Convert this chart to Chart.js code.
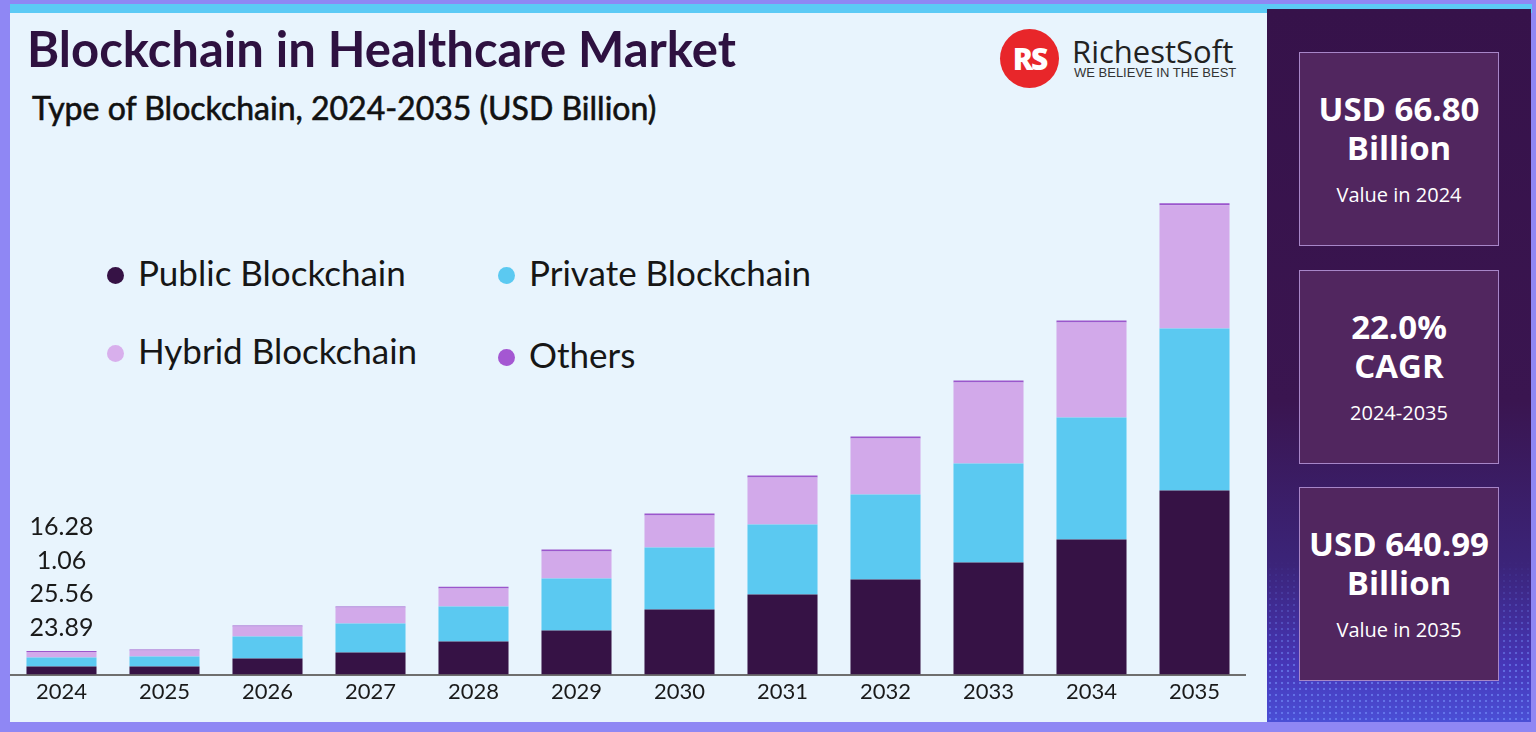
<!DOCTYPE html>
<html>
<head>
<meta charset="utf-8">
<script src="https://cdn.jsdelivr.net/npm/chart.js@4.4.0/dist/chart.umd.min.js"></script>
<style>
body{margin:0;width:1536px;height:732px;overflow:hidden;background:#8f87f4;font-family:Lato,sans-serif;position:relative}
.strip{position:absolute;left:10px;top:4px;width:1522px;height:9px;background:#5ccaf5}
.panel{position:absolute;left:10px;top:13px;width:1257px;height:709px;background:#e8f4fd}
.side{position:absolute;left:1267px;top:9px;width:264px;height:713px;
  background:linear-gradient(180deg,#36124a 0%,#3a1550 55%,#3b2479 78%,#4636b8 92%,#4a4fd6 100%)}
.dots{position:absolute;left:1267px;top:560px;width:264px;height:162px;
  background-image:radial-gradient(circle,rgba(120,150,255,.55) 1px,transparent 1.6px);
  background-size:6px 6px;
  -webkit-mask-image:linear-gradient(180deg,transparent 0%,#000 70%)}
.card{position:absolute;left:1299px;width:200px;height:194px;background:#51265f;border:1px solid #a786c8;
  box-sizing:border-box;color:#fff;text-align:center;font-family:"Open Sans",sans-serif}
.card .big{font-weight:700;font-size:33px;line-height:39px;white-space:nowrap}
.card .sm{font-size:20px;margin-top:14px}
.title{position:absolute;left:27px;top:19px;font-size:49px;font-weight:700;color:#2e1140;white-space:nowrap}
.sub{position:absolute;left:32px;top:88px;font-size:32px;font-weight:400;color:#111;white-space:nowrap;-webkit-text-stroke:0.6px #111}
.logo{position:absolute;left:1000px;top:29px;width:59px;height:59px;border-radius:50%;background:#e8262a;
  color:#fff;font:900 30px/59px "Open Sans",sans-serif;text-align:center;letter-spacing:-2px}
.brand{position:absolute;left:1072px;top:30px;font:31px "Open Sans",sans-serif;color:#222;white-space:nowrap}
.tag{position:absolute;left:1074px;top:65px;font:13px "Liberation Sans",Arial,sans-serif;color:#333;white-space:nowrap}
.legend{position:absolute;font-size:35px;color:#161616;white-space:nowrap}
.legend i{position:absolute;left:-31px;top:16px;width:17px;height:17px;border-radius:50%}
#wrap{position:absolute;left:10px;top:160px;width:1236px;height:562px}
</style>
</head>
<body>
<div class="strip"></div>
<div class="panel"></div>
<div class="side"></div>
<div class="dots"></div>

<div class="title">Blockchain in Healthcare Market</div>
<div class="sub">Type of Blockchain, 2024-2035 (USD Billion)</div>
<div class="logo">RS</div>
<div class="brand">RichestSoft</div>
<div class="tag">WE BELIEVE IN THE BEST</div>

<div id="legend"></div>

<div class="card" style="top:52px"><div class="big" style="margin-top:36px">USD 66.80<br>Billion</div><div class="sm">Value in 2024</div></div>
<div class="card" style="top:270px"><div class="big" style="margin-top:36px">22.0%<br>CAGR</div><div class="sm">2024-2035</div></div>
<div class="card" style="top:487px"><div class="big" style="margin-top:36px">USD 640.99<br>Billion</div><div class="sm">Value in 2035</div></div>

<div id="wrap"><canvas id="chart"></canvas></div>

<script>
// Data (USD Billion)
const years = ['2024', '2025', '2026', '2027', '2028', '2029', '2030', '2031', '2032', '2033', '2034', '2035'];
const publicChain = [10.9, 10.9, 21.8, 29.9, 44.9, 59.9, 88.5, 108.9, 129.3, 152.4, 183.7, 250.4];
const privateChain = [12.2, 13.6, 29.9, 39.5, 47.6, 70.8, 84.4, 95.3, 115.7, 134.7, 166.0, 220.5];
const hybridChain = [7.5, 8.2, 13.6, 21.8, 24.5, 36.7, 43.6, 64.0, 76.2, 110.2, 129.3, 167.4];
const others = [1.4, 1.4, 1.6, 1.6, 2.4, 2.7, 2.7, 2.7, 2.7, 2.7, 2.7, 2.7];

// Labels printed above the 2024 bar (bottom to top)
const labels2024 = ['23.89', '25.56', '1.06', '16.28'];

const SERIES = [
    { label: 'Public Blockchain', data: publicChain, color: '#361245', dot: '#361245' },
    { label: 'Private Blockchain', data: privateChain, color: '#5bc9f1', dot: '#5bc9f1' },
    { label: 'Hybrid Blockchain', data: hybridChain, color: '#d2a9ea', dot: '#d8afec' },
    { label: 'Others', data: others, color: '#9b56cc', dot: '#a457d2' }
];

// Legend (2 x 2 grid)
const legendPos = [
    { left: 138, top: 251 },
    { left: 529, top: 251 },
    { left: 138, top: 329 },
    { left: 529, top: 333 }
];
document.getElementById('legend').innerHTML = SERIES.map((s, i) => `
    <div class="legend" style="left:${legendPos[i].left}px;top:${legendPos[i].top}px">
        <i style="background:${s.dot}"></i>${s.label}
    </div>
`).join('');

// Value labels over the first bar
const firstBarLabels = {
    id: 'firstBarLabels',
    afterDatasetsDraw(chart) {
        const bar = chart.getDatasetMeta(SERIES.length - 1).data[0];
        const ctx = chart.ctx;
        ctx.save();
        ctx.font = '25px Lato';
        ctx.fillStyle = '#1a1a1a';
        ctx.textAlign = 'center';
        ctx.textBaseline = 'middle';
        labels2024.forEach((txt, i) => {
            ctx.fillText(txt, bar.x, bar.y - 23 - i * 33.7);
        });
        ctx.restore();
    }
};

new Chart(document.getElementById('chart'), {
    type: 'bar',
    data: {
        labels: years,
        datasets: SERIES.map(s => ({
            label: s.label,
            data: s.data,
            backgroundColor: s.color,
            barPercentage: 0.68,
            categoryPercentage: 1
        }))
    },
    options: {
        responsive: true,
        maintainAspectRatio: false,
        animation: false,
        layout: { padding: { top: 0, bottom: 13, left: 0, right: 0 } },
        plugins: {
            legend: { display: false },
            tooltip: { enabled: false }
        },
        scales: {
            x: {
                stacked: true,
                grid: { display: false, drawTicks: false },
                border: { display: true, color: '#6e6e6e', width: 2 },
                ticks: { color: '#1a1a1a', font: { family: 'Lato', size: 22 }, padding: 4 }
            },
            y: {
                stacked: true,
                display: false,
                min: 0,
                max: 700
            }
        }
    },
    plugins: [firstBarLabels]
});
</script>
</body>
</html>
